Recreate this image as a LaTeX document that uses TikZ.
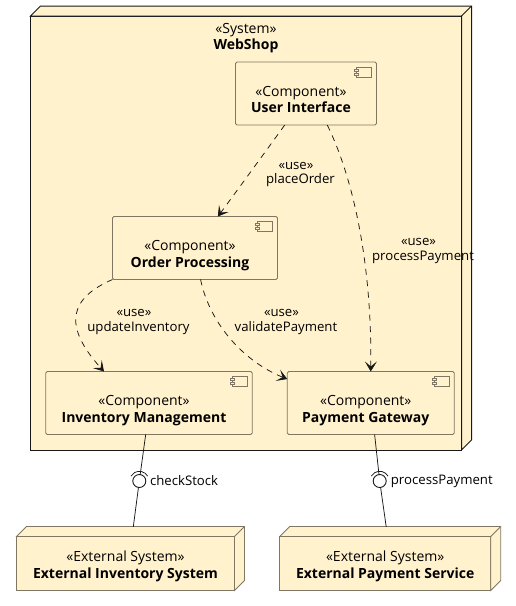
\documentclass[tikz,border=0pt]{standalone}
\usepackage{fontspec}
\setmainfont{Open Sans}
\usetikzlibrary{arrows.meta,calc,positioning}
\definecolor{shopfill}{HTML}{FFF2CC}
\definecolor{compline}{HTML}{7F7763}
\definecolor{inkline}{HTML}{181818}
\newcommand{\stereo}[3][-11.5pt]{\raisebox{#1}[0pt][0pt]{\begin{tabular}{@{}c@{}}«#2»\\[0.5pt]\textbf{#3}\end{tabular}}}
\newcommand{\usetext}[1]{\begin{tabular}{@{}c@{}}«use»\hspace*{9pt}\\[-0.5pt]#1\end{tabular}}
\tikzset{
  nodebox/.style={draw,fill=shopfill,inner sep=0pt,outer sep=0pt,font=\fontsize{14}{16}\selectfont},
  compbox/.style={nodebox,draw=compline,rounded corners=1.5pt,minimum height=63pt,line width=0.8pt},
  usearrow/.style={inkline,line width=0.75pt,dash pattern=on 6pt off 5.5pt,-{Stealth[length=10pt,width=12pt,inset=5pt]}},
  uselabel/.style={inner sep=0pt,font=\fontsize{13.2}{15}\selectfont,text=black},
  portline/.style={inkline,line width=0.75pt},
  portball/.style={circle,draw=inkline,line width=0.9pt,minimum size=13pt,inner sep=0pt,outer sep=0pt},
}
\begin{document}
\begin{tikzpicture}[x=1pt,y=-1pt]
 \useasboundingbox (0,0) rectangle (516,606);
 \node[nodebox,draw=inkline,line width=1pt,minimum width=431pt,minimum height=434pt] (shop) at (246,233) {};
 \node[inner sep=0pt,font=\fontsize{14}{16}\selectfont] (shopname) at (246,36) {\stereo[-6pt]{System}{WebShop}};
 \node[compbox,minimum width=141pt] (ui) at (306,93.5) {\stereo{Component}{User Interface}\hspace*{10pt}};
 \node[compbox,minimum width=165pt] (op) at (195,248) {\stereo{Component}{Order Processing}\hspace*{10pt}};
 \node[compbox,minimum width=206.5pt] (im) at (149,403) {\stereo{Component}{Inventory Management}\hspace*{10pt}};
 \node[compbox,minimum width=167pt,right=35pt of im] (pg) {\stereo{Component}{Payment Gateway}\hspace*{10pt}};
 \node[nodebox,draw=compline,line width=0.8pt,minimum width=218pt,minimum height=54pt] (extinv) at (125.5,563.5) {\stereo[-7pt]{External System}{External Inventory System}};
 \node[nodebox,draw=compline,line width=0.8pt,minimum width=211pt,minimum height=54pt] (extpay) at (385.2,563.5) {\stereo[-7pt]{External System}{External Payment Service}};
 %
 \foreach \comp in {ui,op,im,pg} {
   \draw[compline,line width=0.7pt] ($(\comp.north east)+(-20,5.3)$) rectangle +(15,10);
   \draw[compline,line width=0.7pt,fill=shopfill] ($(\comp.north east)+(-22,7.3)$) rectangle +(4,2);
   \draw[compline,line width=0.7pt,fill=shopfill] ($(\comp.north east)+(-22,11.3)$) rectangle +(4,2);
 }
 \draw[inkline,line width=1pt,fill=shopfill] (shop.north west) -- ++(10,-10) -| ++(431,434) -- (shop.south east) -- (shop.north east) -- cycle;
 \draw[inkline,line width=1pt] (shop.north east) -- ++(10,-10);
 \foreach \ext in {extinv,extpay} {
   \draw[compline,line width=0.8pt,fill=shopfill] (\ext.north west) -- ++(10,-10) -| ($(\ext.south east)+(10,-10)$) -- (\ext.south east) -- (\ext.north east) -- cycle;
   \draw[compline,line width=0.8pt] (\ext.north east) -- ++(10,-10);
 }
 %
 \node[portball] (checkstock) at (139.3,481) {};
 \node[portball] (paystock) at (379.7,481) {};
 \node[uselabel,anchor=west,right=4pt of checkstock] (checklabel) {checkStock};
 \node[uselabel,anchor=west,right=4.5pt of paystock] (paylabel) {processPayment};
 \draw[portline] (im.-96.3) -- (checkstock);
 \draw[portline] (checkstock) -- ($(extinv.north)+(7.8,-9.7)$);
 \draw[portline] (pg.-83.6) -- (paystock);
 \draw[portline] (paystock) -- ($(extpay.north)+(1,-9.7)$);
 \draw[portline] ($(checkstock)+(30:9.7pt)$) arc[start angle=30,end angle=150,radius=9.7pt];
 \draw[portline] ($(paystock)+(30:9.7pt)$) arc[start angle=30,end angle=150,radius=9.7pt];
 %
 \draw[usearrow] (ui.-124.9) .. controls (263,155) and (236,192) .. (op.54.7);
 \draw[usearrow] (ui.-56.3) .. controls (352,175) and (372,260) .. (pg.north);
 \draw[usearrow] (op.south west) .. controls (70,298) and (62,325) .. (im.145);
 \draw[usearrow] (op.-80) .. controls (210,325) and (245,362) .. (pg.164);
 %
 \node[uselabel] (placelabel) at (300.5,173.5) {\usetext{placeOrder}};
 \node[uselabel] (paymentlabel) at (423,250) {\usetext{processPayment}};
 \node[uselabel] (updatelabel) at (138.5,321) {\usetext{updateInventory}};
 \node[uselabel] (validatelabel) at (286,321) {\usetext{validatePayment}};
\end{tikzpicture}
\end{document}
